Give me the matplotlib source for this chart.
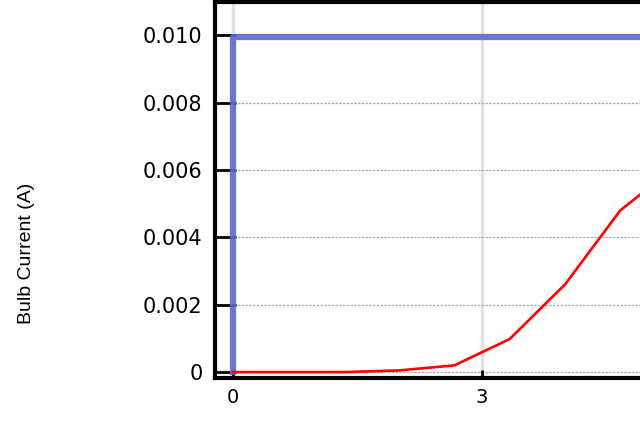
import matplotlib
matplotlib.use('Agg')
import matplotlib.pyplot as plt

# source current (step on at t=0)
source_t = [0, 0, 6]
source_i = [0, 0.00995, 0.00995]

# bulb current
bulb_t = [0, 0.667, 1.333, 2.0, 2.667, 3.333, 4.0, 4.667, 5.333]
bulb_i = [0, 0, 0, 0.00005, 0.0002, 0.00098, 0.0026, 0.0048, 0.0061]

yticks = [0, 0.002, 0.004, 0.006, 0.008, 0.010]
ytick_labels = ['0', '0.002', '0.004', '0.006', '0.008', '0.010']
xticks = [0, 3]
xtick_labels = ['0', '3']

fig = plt.figure(figsize=(6.4, 4.22), dpi=100)
ax = fig.add_axes([0.336, 0.104, 0.664, 0.891])

# light vertical grid at x ticks, dotted horizontal grid
for x in xticks:
    ax.axvline(x, color='#e2e2e2', lw=2.5, zorder=0)
for y in yticks:
    ax.axhline(y, color='#aaaaaa', lw=0.9, ls=(0, (2, 1)), zorder=0)

ax.plot(bulb_t, bulb_i, color='#ff0000', lw=1.9, zorder=3)
ax.plot(source_t, source_i, color='#6068cc', lw=4.5, alpha=0.9, zorder=2)

ax.set_xlim(-0.217, 4.904)
ax.set_ylim(-0.000178, 0.01098)

ax.set_xticks(xticks)
ax.set_xticklabels(xtick_labels)
ax.set_yticks(yticks)
ax.set_yticklabels(ytick_labels)
ax.tick_params(axis='y', direction='in', length=15, width=2, labelsize=15, pad=9)
ax.tick_params(axis='x', direction='in', length=6, width=2, labelsize=14, pad=7)

for side in ['left', 'bottom', 'top']:
    ax.spines[side].set_linewidth(3)
ax.spines['right'].set_visible(False)

fig.text(0.042, 0.40, 'Bulb Current (A)', rotation=90, ha='center', va='center',
         fontsize=14, family=['Liberation Sans', 'DejaVu Sans'])

plt.savefig('out.png', dpi=100)
